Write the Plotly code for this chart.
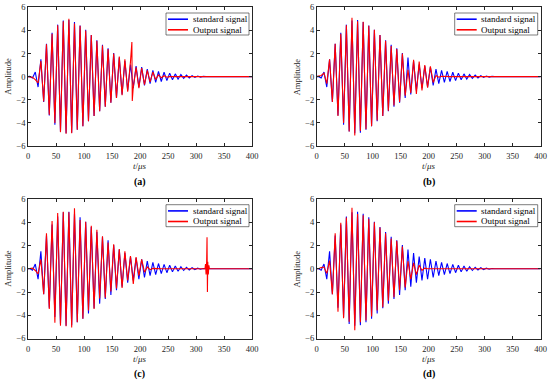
import plotly.graph_objects as go

# ---------------- data (extremum times in microseconds and amplitudes) ----------------
T_PEAKS = [0, 3, 8, 13, 18, 23, 28, 33, 38, 43, 48, 53, 58, 63, 68, 73, 78, 83, 88, 93,
           98, 103, 108, 113, 118, 123, 128, 133, 138, 143, 148, 153, 158, 163, 168, 173,
           178, 183, 188, 193, 198, 203, 208, 213, 218, 223, 228, 233, 238, 243, 248, 253,
           258, 263, 268, 273, 278, 283, 288, 293, 298, 303, 308, 313, 318, 400]

STANDARD = [0, 0.02, -0.12, 0.4, -0.9, 1.5, -2.2, 2.85, -3.35, 3.8, -4.15, 4.5, -4.75, 4.85,
            -4.9, 4.9, -4.85, 4.72, -4.6, 4.42, -4.3, 4.05, -3.85, 3.6, -3.4, 3.15, -3.0,
            2.75, -2.6, 2.45, -2.25, 2.05, -1.85, 1.65, -1.55, 1.35, -1.2, 1.05, -1.0, 0.92,
            -0.9, 0.82, -0.75, 0.65, -0.6, 0.55, -0.5, 0.45, -0.42, 0.38, -0.34, 0.3, -0.27,
            0.24, -0.21, 0.18, -0.15, 0.13, -0.11, 0.09, -0.07, 0.05, -0.04, 0.02, 0, 0]

OUTPUT_A = [0, 0, -0.05, -0.25, -0.55, 1.35, -2.15, 2.8, -3.3, 3.7, -4.0, 4.45, -4.8, 4.8,
            -4.95, 5.0, -4.9, 4.6, -4.6, 4.4, -4.3, 4.0, -3.85, 3.6, -3.4, 3.1, -3.0, 2.7,
            -2.6, 2.4, -2.25, 2.0, -1.85, 1.75, -1.6, 1.5, -1.3, 1.3, -0.9, 0.8, -1.0, 0.75,
            -0.7, 0.55, -0.45, 0.4, -0.25, 0.15, -0.1, 0.08, -0.05, 0, 0, 0, 0, 0, 0, 0, 0,
            0, 0, 0, 0, 0, 0, 0]
SPIKE_A_T = [185.5, 186.2]
SPIKE_A_V = [3.0, -2.1]

OUTPUT_B = [0, 0.05, 0.1, 0.3, -0.6, 1.5, -2.2, 2.85, -3.4, 3.7, -4.0, 4.45, -4.75, 5.1,
            -5.1, 4.8, -4.7, 4.75, -4.55, 4.4, -4.3, 4.05, -3.8, 3.6, -3.4, 3.1, -2.95, 2.65,
            -2.5, 2.4, -2.2, 2.0, -1.65, 0.6, -1.4, 1.45, -1.5, 1.3, -1.2, 1.0, -0.95, 0.9,
            -0.5, 0.1, -0.05, 0.03, 0, 0, 0, 0, 0, 0, 0, 0, 0, 0, 0, 0, 0, 0, 0, 0, 0, 0,
            0, 0]

OUTPUT_C = [0, 0.02, 0.05, -0.15, -0.45, 0.8, -2.2, 3.05, -3.45, 4.1, -4.65, 4.8, -4.9, 4.9,
            -4.95, 4.85, -5.05, 5.2, -4.6, 4.2, -4.3, 4.05, -3.6, 3.7, -3.45, 3.35, -2.55,
            2.8, -2.5, 2.25, -1.95, 2.1, -1.7, 1.7, -1.65, 1.5, -1.0, 1.1, -1.3, 1.0, -0.6,
            0.8, -0.3, 0.15, -0.08, 0.03, 0, 0, 0, 0, 0, 0, 0, 0, 0, 0, 0, 0, 0, 0, 0, 0, 0,
            0, 0, 0]
SPIKE_C_T = [316, 317, 318, 319, 319.7, 320.4, 321, 322, 323, 324]
SPIKE_C_V = [0, 0.4, -0.5, 0.6, 2.7, -2.0, 0.6, -0.5, 0.3, 0]

OUTPUT_D = [0, 0, 0.1, 0.15, -0.4, 0.7, -2.2, 3.05, -3.7, 3.95, -4.25, 4.4, -4.55, 5.25,
            -5.3, 4.7, -4.6, 4.6, -4.45, 4.3, -4.1, 4.0, -3.6, 3.55, -3.3, 3.05, -2.75, 2.6,
            -2.45, 2.4, -1.85, 1.9, -1.6, 0.65, -0.9, 0.5, -0.5, 0.3, -0.15, 0.05, 0, 0, 0,
            0, 0, 0, 0, 0, 0, 0, 0, 0, 0, 0, 0, 0, 0, 0, 0, 0, 0, 0, 0, 0, 0, 0]

X_TICKS = [0, 50, 100, 150, 200, 250, 300, 350, 400]
Y_TICKS = [-6, -4, -2, 0, 2, 4, 6]
PANEL_LABELS = ["(a)", "(b)", "(c)", "(d)"]
SERIES_NAMES = ["standard signal", "Output signal"]
SERIES_COLORS = ["#0000FF", "#FF0000"]

for arr in (STANDARD, OUTPUT_A, OUTPUT_B, OUTPUT_C, OUTPUT_D):
    assert len(arr) == len(T_PEAKS), len(arr)


def merge(t, v, st=None, sv=None):
    pts = list(zip(t, v))
    if st:
        pts += list(zip(st, sv))
    pts.sort(key=lambda p: p[0])
    return [p[0] for p in pts], [p[1] for p in pts]


outputs = [merge(T_PEAKS, OUTPUT_A, SPIKE_A_T, SPIKE_A_V),
           merge(T_PEAKS, OUTPUT_B),
           merge(T_PEAKS, OUTPUT_C, SPIKE_C_T, SPIKE_C_V),
           merge(T_PEAKS, OUTPUT_D)]

FONT = "Liberation Serif"
W, H = 550, 381
# plot areas in pixels (left, right, top, bottom)
areas = [(28, 252, 7.3, 146), (316.7, 540.7, 7.3, 146),
         (28, 252, 199, 338.5), (316.7, 540.7, 199, 338.5)]


def px(x):
    return x / W


def py(y):
    return 1 - y / H


fig = go.Figure()
layout = dict(template="none", width=W, height=H, margin=dict(l=0, r=0, t=0, b=0),
              autosize=False, showlegend=False,
              paper_bgcolor="white", plot_bgcolor="white",
              font=dict(family=FONT, size=8.5, color="#262626"))
annotations = []
shapes = []


def note(text, x, y, size, color="#262626", xanchor="center", angle=0):
    annotations.append(dict(text=text, x=px(x), y=py(y), xref="paper", yref="paper",
                            xanchor=xanchor, yanchor="middle", showarrow=False,
                            textangle=angle, font=dict(family=FONT, size=size, color=color)))


for i, (l, r, t, b) in enumerate(areas):
    n = "" if i == 0 else str(i + 1)
    xa, ya = "x" + n, "y" + n
    fig.add_trace(go.Scatter(x=T_PEAKS, y=STANDARD, mode="lines", name=SERIES_NAMES[0],
                             line=dict(color=SERIES_COLORS[0], width=1.1), xaxis=xa, yaxis=ya))
    ox, oy = outputs[i]
    fig.add_trace(go.Scatter(x=ox, y=oy, mode="lines", name=SERIES_NAMES[1],
                             line=dict(color=SERIES_COLORS[1], width=1.1), xaxis=xa, yaxis=ya))
    axcommon = dict(showgrid=False, zeroline=False, showline=True, linecolor="#262626",
                    linewidth=0.6, mirror="ticks", ticks="inside", ticklen=3,
                    tickcolor="#262626", tickwidth=0.6, automargin=False,
                    tickfont=dict(family=FONT, size=8.5, color="#262626"))
    layout["xaxis" + n] = dict(domain=[px(l), px(r)], anchor=ya, range=[0, 400],
                               tickvals=X_TICKS, ticklabelstandoff=2, **axcommon)
    layout["yaxis" + n] = dict(domain=[py(b), py(t)], anchor=xa, range=[-6, 6],
                               tickvals=Y_TICKS, **axcommon)
    # legend box (drawn inside the top-right corner of each panel)
    bl, br, bt, bb = r - 86, r - 3, t + 5.7, t + 27.7
    shapes.append(dict(type="rect", xref="paper", yref="paper", x0=px(bl), x1=px(br),
                       y0=py(bb), y1=py(bt), fillcolor="white",
                       line=dict(color="#262626", width=0.6), layer="above"))
    for k in range(2):
        yy = bt + 6.2 + k * 10.6
        shapes.append(dict(type="line", xref="paper", yref="paper", x0=px(bl + 2),
                           x1=px(bl + 22), y0=py(yy), y1=py(yy), layer="above",
                           line=dict(color=SERIES_COLORS[k], width=1.6)))
        note(SERIES_NAMES[k], bl + 24.5, yy, 9, color="#000000", xanchor="left")
    cx = (l + r) / 2
    note("<i>t</i>/<i>μs</i>", cx, b + 20, 9)
    note("<b>" + PANEL_LABELS[i] + "</b>", cx, b + 35.5, 10, color="#000000")
    note("Amplitude", l - 20, (t + b) / 2, 8.5, angle=-90)

layout["annotations"] = annotations
layout["shapes"] = shapes
fig.update_layout(**layout)
fig.write_html("out.html", config={"displayModeBar": False},
               post_script="document.body.style.margin='0';document.body.style.overflow='hidden';")
